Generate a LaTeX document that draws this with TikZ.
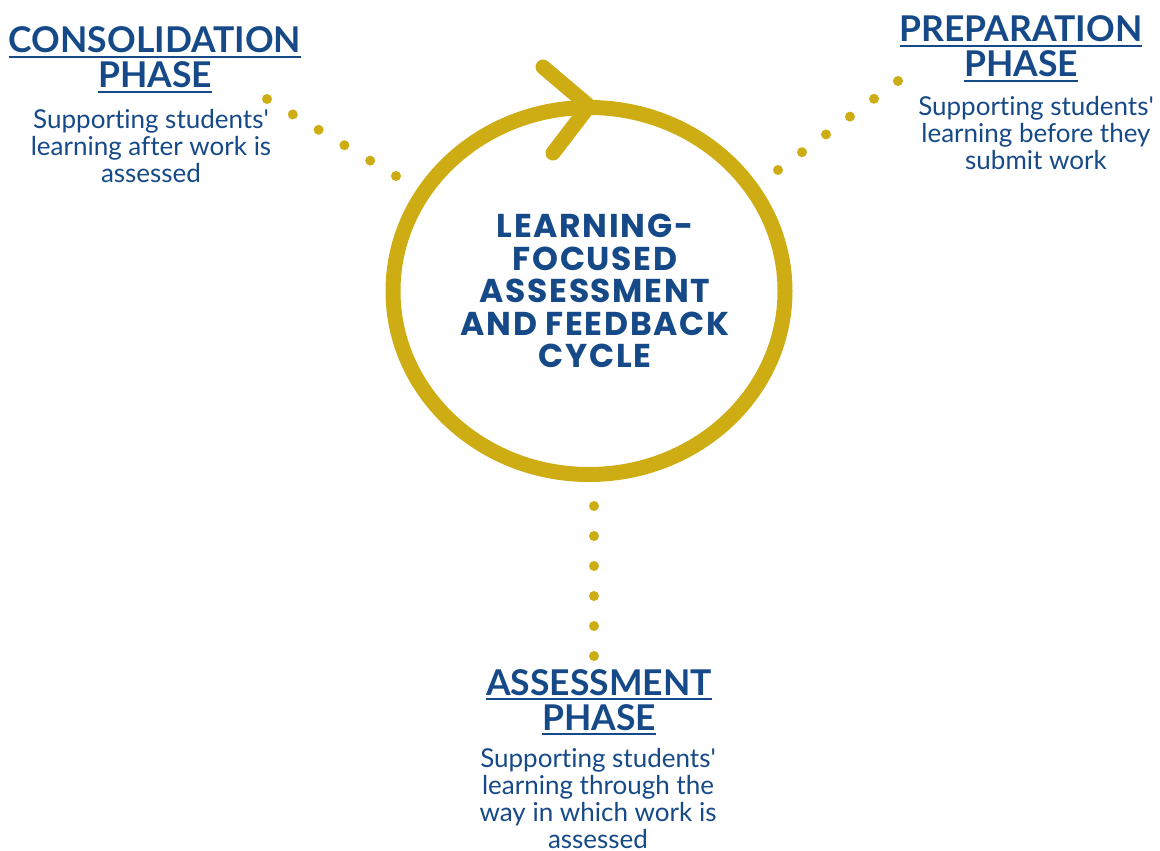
\documentclass[tikz,border=0pt]{standalone}
\usepackage{fontspec}
\setmainfont{Lato}[Ligatures={TeX,NoCommon}]
\newfontfamily\cyclefont[LetterSpace=5]{Poppins}
\usetikzlibrary{calc,shapes.geometric}
\definecolor{phaseblue}{RGB}{22,73,135}
\definecolor{cyclegold}{RGB}{205,172,20}
\newcommand{\ulhead}[1]{\setbox0\hbox{#1}\rlap{\rule[-5.2pt]{\wd0}{2.6pt}}\box0}

\begin{document}
\begin{tikzpicture}[x=1pt,y=-1pt,
	phasehead/.style={anchor=base,align=center,text=phaseblue,inner sep=0pt,font=\fontsize{35.5}{35}\selectfont\bfseries},
	phasetext/.style={anchor=base,align=center,text=phaseblue,inner sep=0pt,font=\fontsize{26}{27}\selectfont},
	ringline/.style={draw=cyclegold,line width=15pt,line cap=round,line join=round},
	dotc/.style={fill=cyclegold}]
	\useasboundingbox (0,0) rectangle (1160,851);
	% the cycle
	\node (ring) [ringline,ellipse,inner sep=0pt,minimum width=392pt,minimum height=367pt] at (589,291) {};
	\draw[ringline] (543,67) -- (589,106) -- (553,153);
	\node (cycletext) [align=center,text=phaseblue,font=\cyclefont\bfseries\fontsize{33}{32.5}\selectfont] at (595,291)
		{LEARNING-\\FOCUSED\\ASSESSMENT\\AND FEEDBACK\\CYCLE};
	% the three phases (base = last line)
	\node (conshead) [phasehead] at (155,88) {\ulhead{CONSOLIDATION}\\\ulhead{PHASE}};
	\node (constext) [phasetext] at (151,182) {Supporting students\textquotesingle\\learning after work is\\assessed};
	\node (prephead) [phasehead] at (1021,77) {\ulhead{PREPARATION}\\\ulhead{PHASE}};
	\node (preptext) [phasetext] at (1036,169) {Supporting students\textquotesingle\\learning before they\\submit work};
	\node (asshead) [phasehead] at (599,730) {\ulhead{ASSESSMENT}\\\ulhead{PHASE}};
	\node (asstext) [phasetext] at (598,848) {Supporting students\textquotesingle\\learning through the\\way in which work is\\assessed};
	% dotted links
	\coordinate (consA) at (396,176); \coordinate (consB) at (267,99);
	\coordinate (prepA) at (778,170); \coordinate (prepB) at (898,81);
	\coordinate (assA) at (594,506); \coordinate (assB) at (594,656);
	\foreach \a/\b in {consA/consB,prepA/prepB,assA/assB}
		\foreach \i in {0,...,5}
			\fill[dotc] ($(\a)!\i/5!(\b)$) circle (5pt);
\end{tikzpicture}
\end{document}
